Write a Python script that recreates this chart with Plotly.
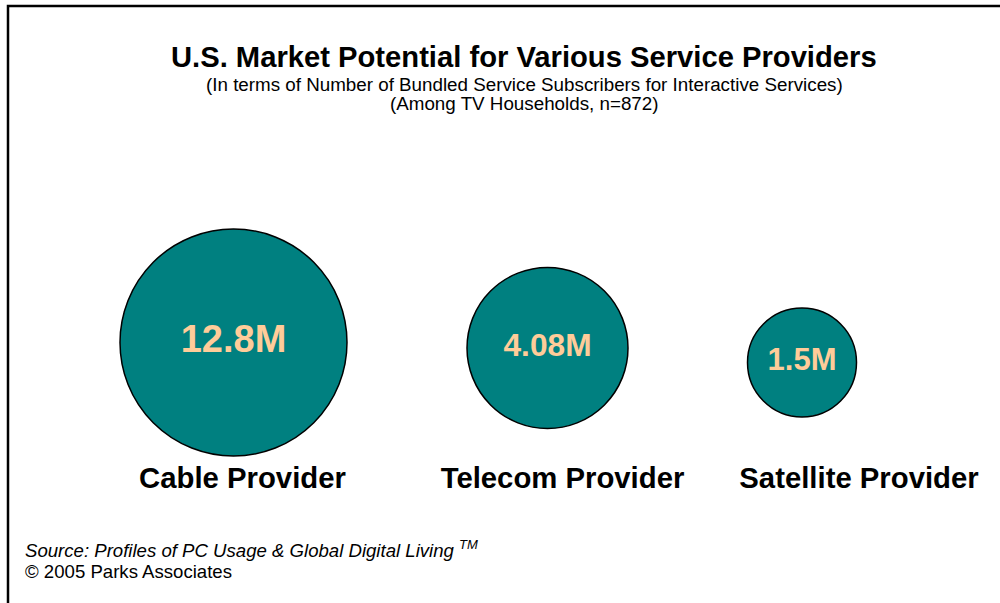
import plotly.graph_objects as go

# ---- data ----
providers = ["Cable Provider", "Telecom Provider", "Satellite Provider"]
subscribers_m = [12.8, 4.08, 1.5]
value_labels = ["12.8M", "4.08M", "1.5M"]

title = "U.S. Market Potential for Various Service Providers"
subtitle1 = "(In terms of Number of Bundled Service Subscribers for Interactive Services)"
subtitle2 = "(Among TV Households, n=872)"
source = "Source: Profiles of PC Usage & Global Digital Living"
copyright_txt = "© 2005 Parks Associates"

# ---- style / layout constants ----
W, H = 1000, 603
FONT = "Liberation Sans, Arial, sans-serif"
TEAL = "#008080"
PEACH = "#FFCC99"
BUBBLE_DIAMETERS = [227, 161, 109]
BUBBLE_CENTER_X = [233.5, 547.5, 802]   # px
BUBBLE_CENTER_Y = [342.5, 348, 362.5]   # px
LABEL_SHIFT = [9, 15, 57]               # px
VALUE_FONT_SIZES = [38, 31.7, 31]
AXIS_Y_PX = 456
TOP_PX = 60
Y_SPAN = 2.0


def py(px):
    return 1 - px / H


fig = go.Figure()
layout_axes = {}
for i, (name, val, lab) in enumerate(zip(providers, subscribers_m, value_labels)):
    sfx = "" if i == 0 else str(i + 1)
    fig.add_trace(go.Scatter(
        x=[name], y=[val], text=[lab],
        mode="markers+text", textposition="middle center",
        marker=dict(size=BUBBLE_DIAMETERS[i], color=TEAL,
                    line=dict(color="black", width=1.5)),
        textfont=dict(family=FONT, size=VALUE_FONT_SIZES[i], color=PEACH, weight="bold"),
        cliponaxis=False, hoverinfo="x+text",
        xaxis="x" + sfx, yaxis="y" + sfx,
    ))
    cx = BUBBLE_CENTER_X[i] / W
    lo = val - (AXIS_Y_PX - BUBBLE_CENTER_Y[i]) / (AXIS_Y_PX - TOP_PX) * Y_SPAN
    layout_axes["xaxis" + sfx] = dict(
        domain=[cx - 0.1, cx + 0.1], type="category", categoryorder="array",
        categoryarray=[name], range=[-0.5, 0.5], anchor="y" + sfx,
        showgrid=False, zeroline=False, showline=False, ticks="",
        automargin=False,
        tickfont=dict(family=FONT, size=29.3, color="black", weight="bold"),
        ticklabelshift=LABEL_SHIFT[i], ticklabelstandoff=2, fixedrange=True,
    )
    layout_axes["yaxis" + sfx] = dict(
        domain=[py(AXIS_Y_PX), py(TOP_PX)], range=[lo, lo + Y_SPAN],
        visible=False, anchor="x" + sfx, fixedrange=True, automargin=False,
    )

fig.update_layout(**layout_axes)

annotations = [
    dict(text=f"<b>{title}</b>", x=0.524, y=py(57), font=dict(size=29.2)),
    dict(text=subtitle1, x=0.524, y=py(84), font=dict(size=18.8)),
    dict(text=subtitle2, x=0.524, y=py(103), font=dict(size=18.8)),
    dict(text=f"<i>{source} <sup>TM</sup></i>", x=0.023, y=py(549),
         xanchor="left", font=dict(size=18.6)),
    dict(text=copyright_txt, x=0.023, y=py(571), xanchor="left", font=dict(size=18.6)),
]
for a in annotations:
    a.setdefault("xanchor", "center")
    a.update(xref="paper", yref="paper", yanchor="middle", showarrow=False)
    a["font"].update(family=FONT, color="black")

fig.update_layout(
    width=W, height=H, margin=dict(l=0, r=0, t=0, b=0, autoexpand=False),
    paper_bgcolor="white", plot_bgcolor="rgba(0,0,0,0)",
    showlegend=False, annotations=annotations,
    shapes=[dict(type="rect", xref="paper", yref="paper",
                 x0=8 / W, x1=1.05, y0=-0.05, y1=py(6),
                 line=dict(color="black", width=2.5), layer="above")],
)

fig.write_html(
    "out.html",
    config={"displayModeBar": False, "staticPlot": True},
    post_script="document.body.style.margin='0';document.body.style.overflow='hidden';",
)
